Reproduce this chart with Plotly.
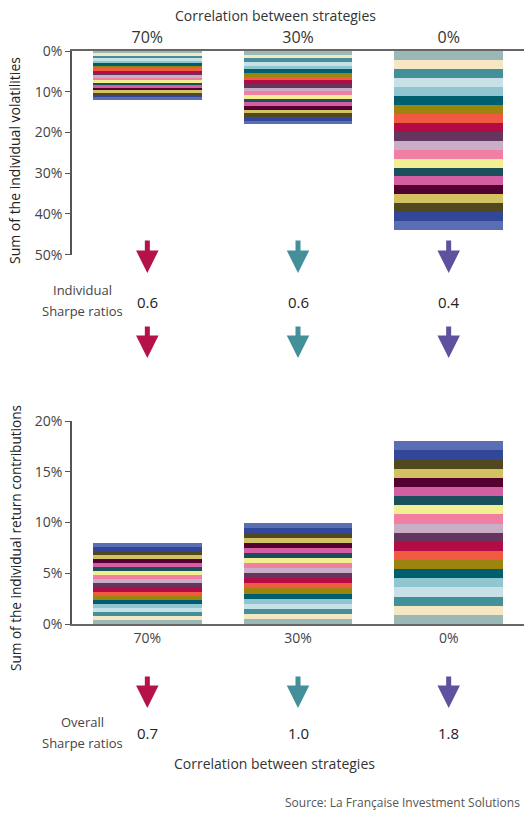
import plotly.graph_objects as go

# correlation scenarios (x categories)
correlations = ['70%', '30%', '0%']

# 20 strategies, stacked from the first one
strategy_colors = ['#9AB8B5', '#F5E6C4', '#44909A', '#C8E1E6', '#8FC6D0',
                   '#005F6E', '#9C840F', '#F05A40', '#B30C45', '#66355F',
                   '#C9AEC8', '#F07FA3', '#F2EF92', '#1A4F5B', '#D35FA2',
                   '#540030', '#D2C262', '#524820', '#33479A', '#5B6DB3']

# individual volatilities (%) per strategy
vol_70 = [0.6, 0.6, 0.6, 0.6, 0.6, 0.6, 0.6, 0.6, 0.6, 0.6,
          0.6, 0.6, 0.6, 0.6, 0.6, 0.6, 0.6, 0.6, 0.6, 0.6]
vol_30 = [0.9, 0.9, 0.9, 0.9, 0.9, 0.9, 0.9, 0.9, 0.9, 0.9,
          0.9, 0.9, 0.9, 0.9, 0.9, 0.9, 0.9, 0.9, 0.9, 0.9]
vol_0 = [2.2, 2.2, 2.2, 2.2, 2.2, 2.2, 2.2, 2.2, 2.2, 2.2,
         2.2, 2.2, 2.2, 2.2, 2.2, 2.2, 2.2, 2.2, 2.2, 2.2]

# individual return contributions (%) per strategy
ret_70 = [0.4, 0.4, 0.4, 0.4, 0.4, 0.4, 0.4, 0.4, 0.4, 0.4,
          0.4, 0.4, 0.4, 0.4, 0.4, 0.4, 0.4, 0.4, 0.4, 0.4]
ret_30 = [0.5, 0.5, 0.5, 0.5, 0.5, 0.5, 0.5, 0.5, 0.5, 0.5,
          0.5, 0.5, 0.5, 0.5, 0.5, 0.5, 0.5, 0.5, 0.5, 0.5]
ret_0 = [0.9, 0.9, 0.9, 0.9, 0.9, 0.9, 0.9, 0.9, 0.9, 0.9,
         0.9, 0.9, 0.9, 0.9, 0.9, 0.9, 0.9, 0.9, 0.9, 0.9]

vol_ticks = [0, 10, 20, 30, 40, 50]
ret_ticks = [0, 5, 10, 15, 20]

individual_sharpe = ['0.6', '0.6', '0.4']
overall_sharpe = ['0.7', '1.0', '1.8']
arrow_colors = ['#B5124A', '#43909B', '#60519F']

W, H = 524, 813
FONT = 'Open Sans'

fig = go.Figure()

for i, col in enumerate(strategy_colors):
    fig.add_trace(go.Bar(x=correlations, y=[vol_70[i], vol_30[i], vol_0[i]],
                         marker_color=col, marker_line_width=0,
                         xaxis='x', yaxis='y', showlegend=False))
for i, col in enumerate(strategy_colors):
    fig.add_trace(go.Bar(x=correlations, y=[ret_70[i], ret_30[i], ret_0[i]],
                         marker_color=col, marker_line_width=0,
                         xaxis='x2', yaxis='y2', showlegend=False))

annotations = []


def py(y):
    # pixel row -> paper y
    return 1 - y / H


# arrows: (tail, tip) in pixel rows
for tail, tip in [(239, 273), (325, 358), (675, 708)]:
    for cat, col in zip(correlations, arrow_colors):
        annotations.append(dict(x=cat, y=py(tip), xref='x2', yref='paper',
                                ax=0, ay=tail - tip, text='', showarrow=True,
                                arrowhead=2, arrowwidth=5, arrowsize=0.9,
                                arrowcolor=col, standoff=0, startstandoff=0,
                                font=dict(size=1)))

# sharpe ratio values under each correlation
for cat, v in zip(correlations, individual_sharpe):
    annotations.append(dict(x=cat, y=py(302), xref='x2', yref='paper', text=v,
                            showarrow=False, xanchor='center', yanchor='middle',
                            font=dict(size=15, color='#222', family=FONT)))
for cat, v in zip(correlations, overall_sharpe):
    annotations.append(dict(x=cat, y=py(733), xref='x2', yref='paper', text=v,
                            showarrow=False, xanchor='center', yanchor='middle',
                            font=dict(size=15, color='#222', family=FONT)))


def label(text, x, y, size=14, color='#333', xanchor='center', **kw):
    annotations.append(dict(text=text, x=x / W, y=py(y), xref='paper', yref='paper',
                            showarrow=False, xanchor=xanchor, yanchor='middle',
                            font=dict(size=size, color=color, family=FONT), **kw))


label('Correlation between strategies', 275, 16, size=14)
label('Correlation between strategies', 274, 763, size=14)
label('Individual', 82, 290, size=13, color='#444')
label('Sharpe ratios', 82, 311, size=13, color='#444')
label('Overall', 82, 722, size=13, color='#444')
label('Sharpe ratios', 82, 743, size=13, color='#444')
label('Sum of the individual volatilities', 15, 161, size=14, color='#222', textangle=-90)
label('Sum of the individual return contributions', 15, 538, size=13.6, color='#222',
      textangle=-90)
label('Source: La Française Investment Solutions', 522, 802, size=12, color='#555',
      xanchor='right')

x_dom = [72 / W, 1]

fig.update_layout(
    width=W, height=H,
    margin=dict(l=0, r=0, t=0, b=0),
    barmode='stack', bargap=0.277,
    plot_bgcolor='white', paper_bgcolor='white',
    font=dict(family=FONT, color='#333'),
    annotations=annotations,
    xaxis=dict(domain=x_dom, anchor='y', side='top', type='category',
               showline=True, linecolor='#666', linewidth=1.5, ticks='',
               tickfont=dict(size=16, color='#333'), automargin=False),
    yaxis=dict(domain=[py(254.7), py(51)], anchor='x', range=[50, 0],
               tickmode='array', tickvals=vol_ticks,
               ticktext=[f'{t}%' for t in vol_ticks],
               showline=True, linecolor='#555', linewidth=1.5, ticks='outside',
               ticklen=5, tickcolor='#555', showgrid=False, zeroline=False,
               tickfont=dict(size=14, color='#444'), automargin=False),
    xaxis2=dict(domain=x_dom, anchor='y2', type='category',
                showline=True, linecolor='#666', linewidth=2, ticks='',
                tickfont=dict(size=14, color='#444'), automargin=False),
    yaxis2=dict(domain=[py(624), py(421)], anchor='x2', range=[0, 20],
                tickmode='array', tickvals=ret_ticks,
                ticktext=[f'{t}%' for t in ret_ticks],
                showline=True, linecolor='#555', linewidth=1.5, ticks='outside',
                ticklen=5, tickcolor='#555', showgrid=False, zeroline=False,
                tickfont=dict(size=14, color='#444'), automargin=False),
)

fig.write_html("out.html", config={'displayModeBar': False},
               post_script="document.body.style.margin='0';")
